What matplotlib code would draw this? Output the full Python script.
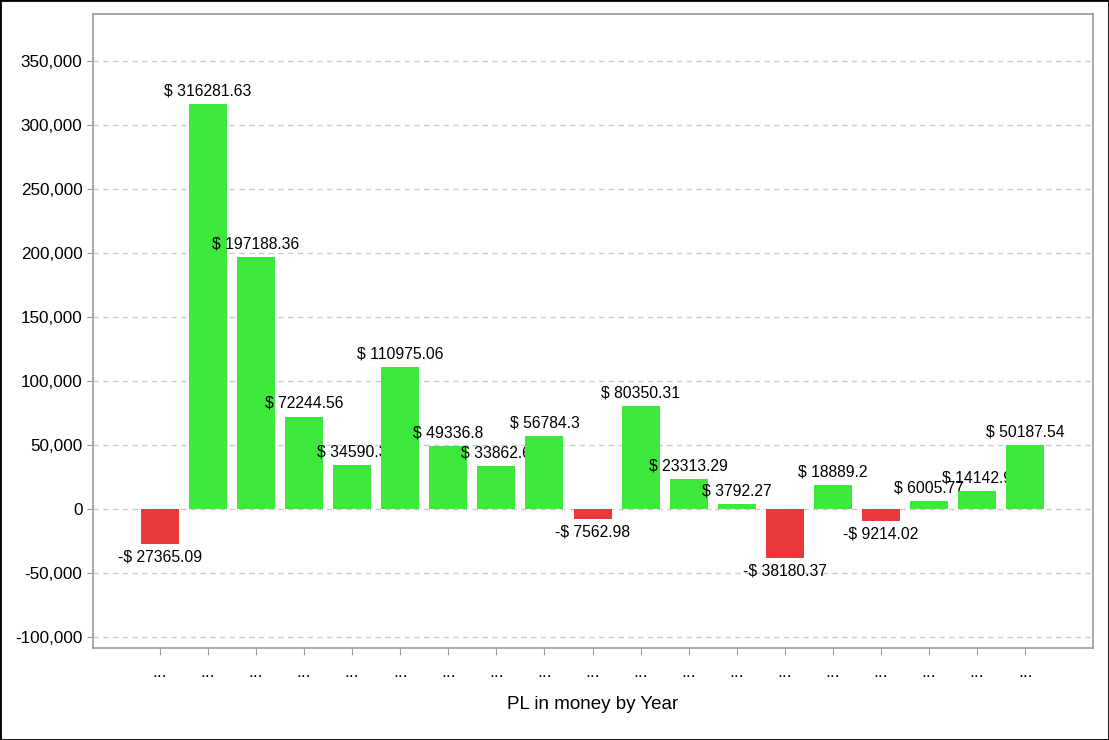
import matplotlib
matplotlib.use("Agg")
import matplotlib.pyplot as plt
from matplotlib.patches import Rectangle
from matplotlib.ticker import FuncFormatter

plt.rcParams['font.family'] = ['Liberation Sans', 'DejaVu Sans']

values = [-27365.09, 316281.63, 197188.36, 72244.56, 34590.3, 110975.06, 49336.8,
          33862.6, 56784.3, -7562.98, 80350.31, 23313.29, 3792.27, -38180.37,
          18889.2, -9214.02, 6005.77, 14142.9, 50187.54]
labels = ["..."] * len(values)
x_title = "PL in money by Year"

green = "#3BE83B"
red = "#E8393C"

fig = plt.figure(figsize=(11.09, 7.40), dpi=100)
ax = fig.add_axes([93/1109, 92/740, 1000/1109, 634/740])

for i, v in enumerate(values):
    col = green if v >= 0 else red
    ax.bar(i, v, width=0.79, color=col, zorder=3 + 2*i)
    txt = ("$ " if v >= 0 else "-$ ") + f"{abs(v)}"
    if v >= 0:
        ax.annotate(txt, (i, v), xytext=(0, 4), textcoords="offset points",
                    ha="center", va="bottom", fontsize=11.3, zorder=4 + 2*i)
    else:
        ax.annotate(txt, (i, v), xytext=(0, -4), textcoords="offset points",
                    ha="center", va="top", fontsize=11.3, zorder=4 + 2*i)

ax.set_xlim(-1.39, 19.41)
ax.set_ylim(-108600, 386700)
ax.set_yticks(range(-100000, 350001, 50000))
ax.yaxis.set_major_formatter(FuncFormatter(lambda y, p: f"{int(y):,}"))
ax.set_xticks(range(len(values)))
ax.set_xticklabels(labels, fontsize=12.5)
ax.tick_params(axis='y', labelsize=12.3, colors='#999999', labelcolor='black', length=4)
ax.tick_params(axis='x', colors='#999999', labelcolor='black', length=5, pad=7)
ax.yaxis.grid(True, linestyle=(0, (4, 3)), color='#cccccc', linewidth=1, zorder=0)
ax.set_axisbelow(True)
for s in ax.spines.values():
    s.set_color('#999999')
    s.set_linewidth(1.2)
ax.set_xlabel(x_title, fontsize=13.5, labelpad=12)

fig.add_artist(Rectangle((0, 0), 1, 1, transform=fig.transFigure, fill=False,
                         edgecolor='black', linewidth=2))
fig.savefig("out.png", dpi=100)
